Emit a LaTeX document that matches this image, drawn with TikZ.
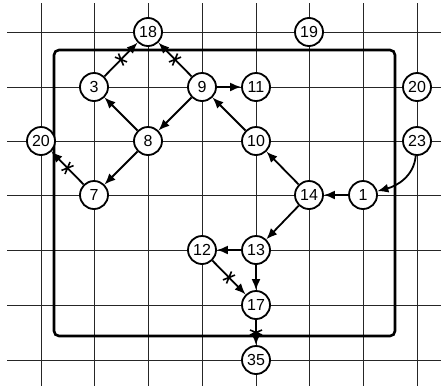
\documentclass[tikz,border=0pt]{standalone}
\usepackage{fontspec}
\setmainfont{Liberation Sans}
\usetikzlibrary{arrows.meta,decorations.markings}
\begin{document}
\begin{tikzpicture}[x=1pt,y=-1pt,
  gridline/.style={line width=0.8pt, black!85},
  vert/.style={circle, draw, line width=1.8pt, fill=white, minimum size=28pt, inner sep=0pt, font=\fontsize{16}{16}\selectfont},
  edge/.style={line width=1.8pt, -{Latex[length=11pt,width=9pt]}},
  cut/.style={edge, postaction={decorate}, decoration={markings, mark=at position 0.5 with {\draw[line width=1.6pt,-] (-2.5pt,-6pt)--(2.5pt,6pt) (2.5pt,-6pt)--(-2.5pt,6pt);}}},
  frame/.style={line width=2.6pt, rounded corners=5pt}]
\useasboundingbox (0,0) rectangle (441,386);
\foreach \x in {41,94,148,202,256,309,363,417} \draw[gridline] (\x,3) -- (\x,386);
\foreach \y in {32,87,141,195,250,305,360} \draw[gridline] (7,\y) -- (441,\y);
\draw[frame] (54,50) rectangle (395,336);
\node[vert] (n18) at (148,32) {18};
\node[vert] (n19) at (309,32) {19};
\node[vert] (n3) at (94,87) {3};
\node[vert] (n9) at (202,87) {9};
\node[vert] (n11) at (256,87) {11};
\node[vert] (n20a) at (417,87) {20};
\node[vert] (n20b) at (41,141) {20};
\node[vert] (n8) at (148,141) {8};
\node[vert] (n10) at (256,141) {10};
\node[vert] (n23) at (417,141) {23};
\node[vert] (n7) at (94,195) {7};
\node[vert] (n14) at (309,195) {14};
\node[vert] (n1) at (363,195) {1};
\node[vert] (n12) at (202,250) {12};
\node[vert] (n13) at (256,250) {13};
\node[vert] (n17) at (256,305) {17};
\node[vert] (n35) at (256,360) {35};
\draw[cut] (n3) -- (n18);
\draw[cut] (n9) -- (n18);
\draw[edge] (n8) -- (n3);
\draw[edge] (n8) -- (n7);
\draw[edge] (n9) -- (n8);
\draw[edge] (n9) -- (n11);
\draw[edge] (n10) -- (n9);
\draw[edge] (n14) -- (n10);
\draw[edge] (n1) -- (n14);
\draw[edge] (n23) to[out=-95,in=15] (n1);
\draw[cut] (n7) -- (n20b);
\draw[edge] (n14) -- (n13);
\draw[edge] (n13) -- (n12);
\draw[edge] (n13) -- (n17);
\draw[cut] (n12) -- (n17);
\draw[cut] (n17) -- (n35);
\end{tikzpicture}
\end{document}
